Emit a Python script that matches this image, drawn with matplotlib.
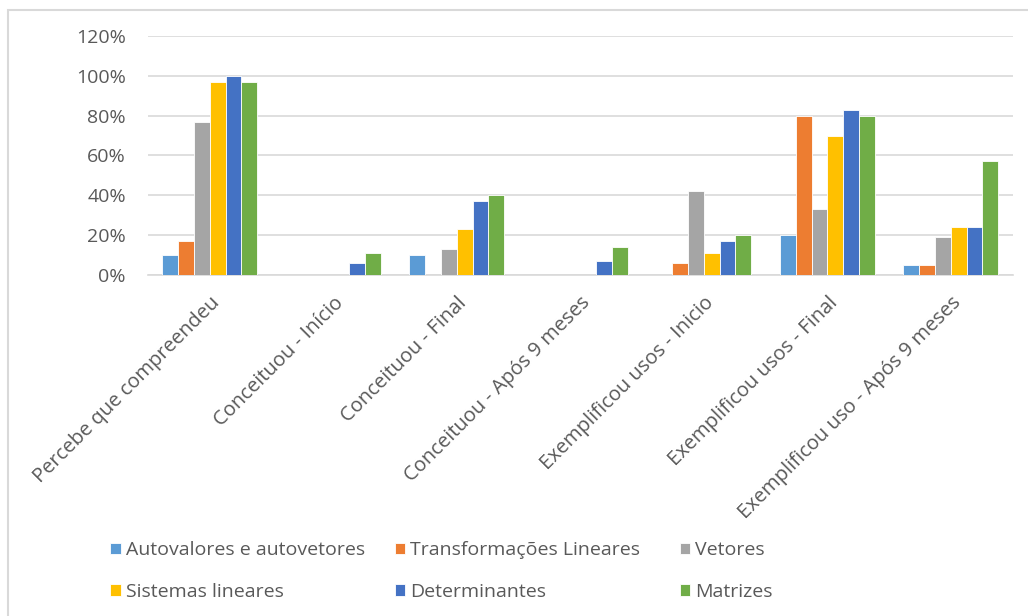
import numpy as np
import matplotlib.pyplot as plt
from matplotlib.patches import Rectangle

plt.rcParams['font.family'] = ['Open Sans', 'DejaVu Sans']

categories = [
    "Percebe que compreendeu",
    "Conceituou - Início",
    "Conceituou - Final",
    "Conceituou - Após 9 meses",
    "Exemplificou usos - Inicio",
    "Exemplificou usos - Final",
    "Exemplificou uso - Após 9 meses",
]

series_names = [
    "Autovalores e autovetores",
    "Transformações Lineares",
    "Vetores",
    "Sistemas lineares",
    "Determinantes",
    "Matrizes",
]

autovalores = [0.10, 0.00, 0.10, 0.00, 0.00, 0.20, 0.05]
transformacoes = [0.17, 0.00, 0.00, 0.00, 0.06, 0.80, 0.05]
vetores = [0.77, 0.00, 0.13, 0.00, 0.42, 0.33, 0.19]
sistemas = [0.97, 0.00, 0.23, 0.00, 0.11, 0.70, 0.24]
determinantes = [1.00, 0.06, 0.37, 0.07, 0.17, 0.83, 0.24]
matrizes = [0.97, 0.11, 0.40, 0.14, 0.20, 0.80, 0.57]

series_values = [autovalores, transformacoes, vetores, sistemas, determinantes, matrizes]
colors = ["#5B9BD5", "#ED7D31", "#A5A5A5", "#FFC000", "#4472C4", "#70AD47"]

text_color = "#595959"
grid_color = "#D9D9D9"

fig = plt.figure(figsize=(10.28, 6.16), dpi=100)
ax = fig.add_axes([0.144, 0.5536, 0.841, 0.388])

x = np.arange(len(categories))
n = len(series_values)
width = 0.128
handles = []
for i, (vals, col, name) in enumerate(zip(series_values, colors, series_names)):
    offs = (i - (n - 1) / 2) * width
    b = ax.bar(x + offs, vals, width, color=col, edgecolor="white", linewidth=0.6,
               label=name, zorder=3)
    handles.append(b)

ax.set_xlim(-0.5, len(categories) - 0.5)
ax.set_ylim(0, 1.2)
ax.set_yticks(np.arange(0, 1.21, 0.2))
ax.set_yticklabels([f"{int(round(v * 100))}%" for v in np.arange(0, 1.21, 0.2)])
ax.yaxis.grid(True, color=grid_color, linewidth=1.2, zorder=0)
for s in ["top", "right", "left"]:
    ax.spines[s].set_visible(False)
ax.spines["bottom"].set_color(grid_color)
ax.spines["bottom"].set_linewidth(1.2)
ax.tick_params(axis="both", length=0, colors=text_color)
ax.tick_params(axis="y", pad=16, labelsize=14)

ax.set_xticks(x)
ax.set_xticklabels(categories, rotation=45, ha="right", rotation_mode="anchor",
                   color=text_color, fontsize=14.5)
ax.tick_params(axis="x", pad=13)

# legend laid out as three columns of two entries each
col_x = [0.107, 0.384, 0.661]
for c in range(3):
    idx = [c, c + 3]
    fig.legend([handles[k] for k in idx], [series_names[k] for k in idx],
               loc="upper left", bbox_to_anchor=(col_x[c], 0.121),
               bbox_transform=fig.transFigure, frameon=False, fontsize=14,
               labelcolor=text_color, handlelength=0.55, handleheight=0.55,
               handletextpad=0.25, labelspacing=1.2, borderpad=0, borderaxespad=0)

# chart area border
fig.patches.append(Rectangle((8 / 1028, -0.5), 2.0, 0.5 + 1 - 10 / 616,
                             transform=fig.transFigure, fill=False,
                             edgecolor=grid_color, linewidth=1.5))

fig.savefig("out.png", dpi=100)
